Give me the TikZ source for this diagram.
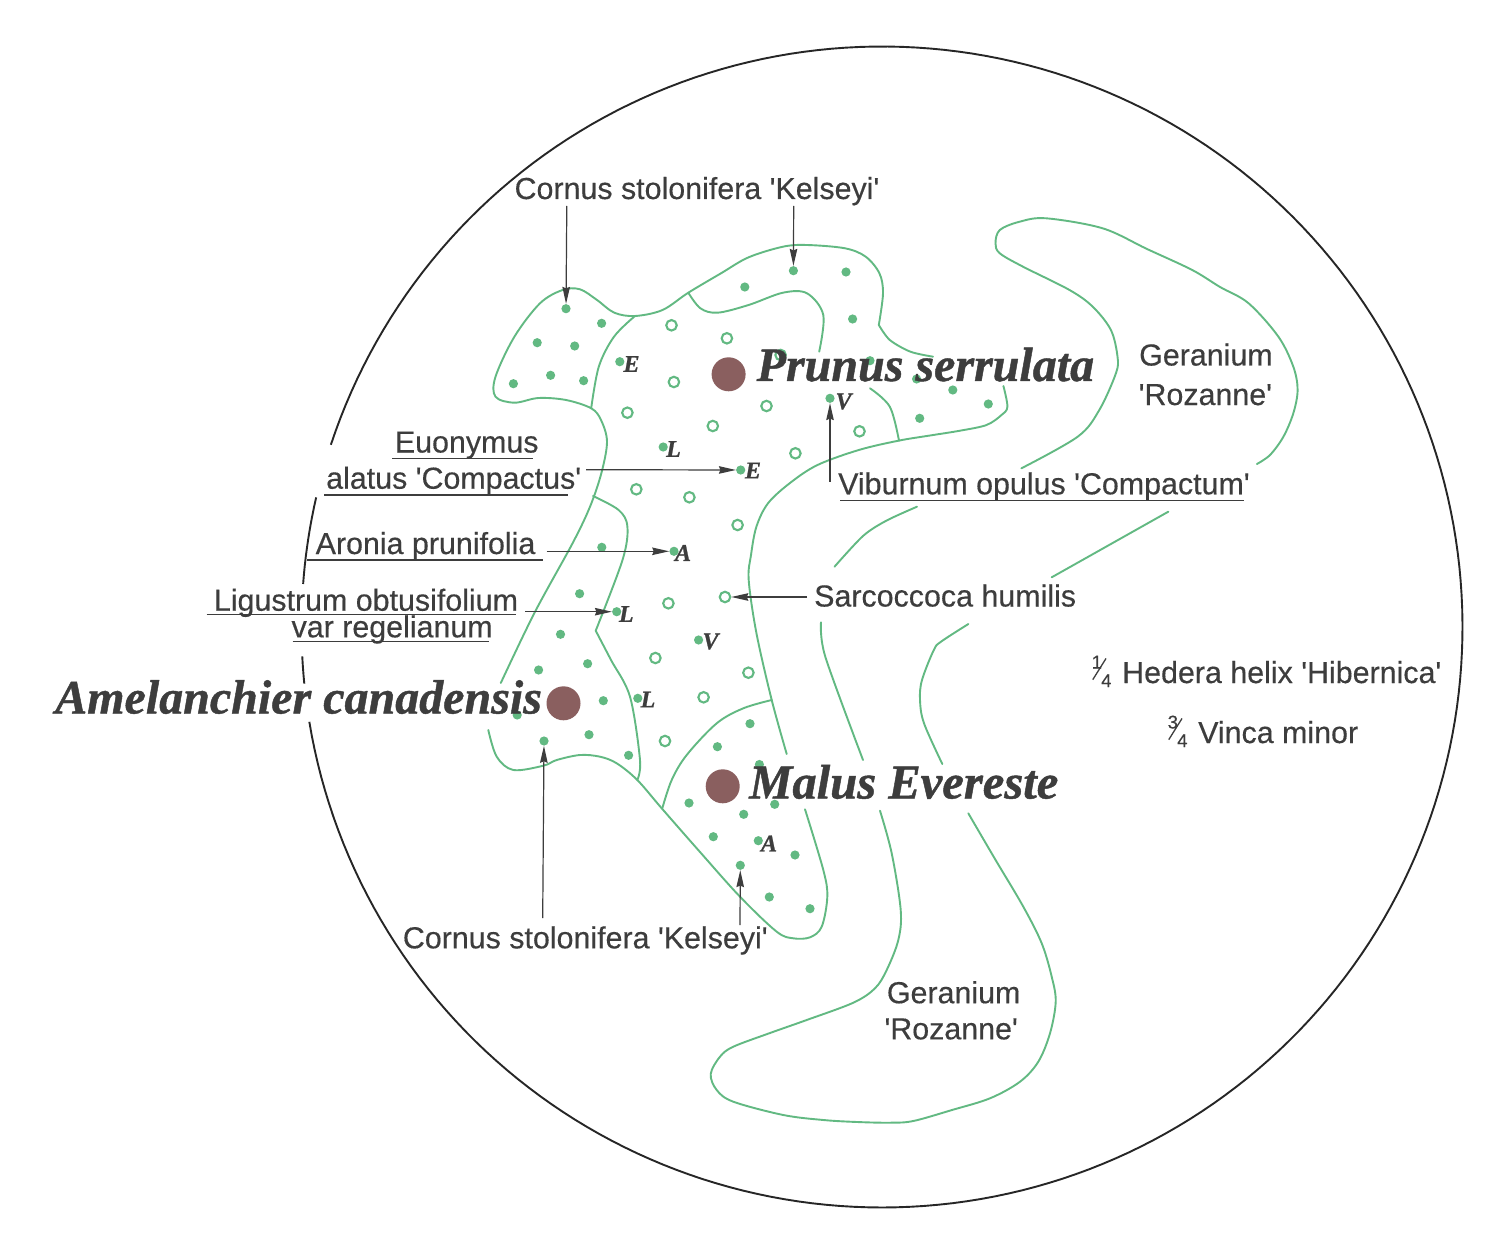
\documentclass[tikz,border=0pt]{standalone}
\usepackage{fontspec}
\setmainfont{Liberation Sans}[Ligatures=TeXOff,FakeBold=0.35]
\newfontfamily\heavyserif{Liberation Serif}[Ligatures=TeXOff,FakeBold=0.9]
\usetikzlibrary{arrows.meta}
\definecolor{leaf}{HTML}{62B982}
\definecolor{ink}{HTML}{3D3D3D}
\definecolor{trunk}{HTML}{8A5F5F}
\newcommand{\mixfrac}[2]{\rlap{\fontsize{18.5}{19}\selectfont\kern1.5pt\raisebox{14.5pt}{#1}}\rlap{\kern2pt\raisebox{3pt}{\rotatebox{58}{\rule{25pt}{1.3pt}}}}\rlap{\fontsize{18.5}{19}\selectfont\kern11pt\raisebox{-4pt}{#2}}\kern32pt}
\tikzset{
  ring/.style={draw=black!85,line width=1.9pt},
  bed/.style={draw=leaf,line width=1.9pt,line cap=round,line join=round},
  soliddot/.style={circle,fill=leaf,inner sep=0pt,minimum size=9.2pt},
  opendot/.style={circle,draw=leaf,line width=2.1pt,fill=white,inner sep=0pt,minimum size=10.5pt},
  treedot/.style={circle,fill=trunk,inner sep=0pt,minimum size=34pt},
  plantlabel/.style={anchor=base west,inner sep=0pt,text=ink,font=\fontsize{30.4}{32}\selectfont},
  treelabel/.style={anchor=base west,inner sep=0pt,text=ink,font=\heavyserif\bfseries\itshape\fontsize{48}{50}\selectfont},
  keyletter/.style={inner sep=0pt,text=ink,font=\heavyserif\bfseries\itshape\fontsize{24}{25}\selectfont},
  rule/.style={draw=ink,line width=1.4pt},
  pointer/.style={draw=ink,line width=1.2pt,-{Stealth[length=17pt,width=7.5pt,inset=1.5pt]}}
}
\begin{document}
\begin{tikzpicture}[x=1pt,y=-1pt]
\path[use as bounding box,fill=white] (0,0) rectangle (1512,1238);

% outer circle, broken behind the labels
\draw[ring] plot[domain=198.3:530.6,samples=240,variable=\a] ({882+580.5*cos(\a)},{627+580.5*sin(\a)});
\draw[ring] plot[domain=192.9:184.25,samples=20,variable=\a] ({882+580.5*cos(\a)},{627+580.5*sin(\a)});
\draw[ring] plot[domain=177.1:174.4,samples=8,variable=\a] ({882+580.5*cos(\a)},{627+580.5*sin(\a)});

% shrub bed outline
\draw[bed] plot[smooth,tension=0.55] coordinates {(500.8,683) (534.4,613) (572.7,543) (590,506.7) (601.4,473) (607,441.7) (601,420) (591.2,408.3) (566,400) (538.5,398) (514.4,402.7) (495.5,396.7) (495.5,376.7) (514.4,336.7) (540,303.3) (562.6,290) (580,289.3) (597,300) (614.3,312.7) (635,316) (662.5,310) (688.3,292.7) (721,273.3) (748.6,257.3) (783,246.7) (807,245) (845,248.3) (865.7,256.7) (879.4,273.3) (883,293.3) (878.8,325)};
\draw[bed] plot[smooth,tension=0.5] coordinates {(878.8,325) (889.8,340) (910.4,351.7) (933,356.7)};
\draw[bed] plot[smooth,tension=0.55] coordinates {(1003.4,386) (1007.4,406.7) (1001.5,415) (986.5,425) (960,430.7) (930,435.5) (898.4,440.7) (858.8,450) (817.5,465) (790,483) (768,503.3) (756.4,526.7) (751,555) (748.7,580) (756.4,633) (771.7,700) (786.7,754)};
\draw[bed] plot[smooth,tension=0.55] coordinates {(805,809.3) (823.3,870) (827.3,896.7) (821.7,926.7) (810,937.3) (793.3,938.3) (776.7,931.7) (740,896.7) (700,852) (661.7,808.3) (637.3,780) (616.7,763.3) (600,756.7) (580,755) (556.7,760) (543.3,765.7) (513.3,770) (496.7,756.7) (488.3,730)};
% internal divisions
\draw[bed] plot[smooth,tension=0.55] coordinates {(635,316) (614,336.7) (598.8,366.7) (591.2,408.3)};
\draw[bed] plot[smooth,tension=0.55] coordinates {(688.3,292.7) (700.4,308.3) (717.6,312.7) (748.6,305) (783,292.7) (807,293.3) (823.3,315) (819.2,351.7)};
\draw[bed] plot[smooth,tension=0.55] coordinates {(870,388.3) (889.8,406.7) (899,440.7)};
\draw[bed] plot[smooth,tension=0.55] coordinates {(593,496) (618.6,510) (627.4,526.7) (622.5,560) (595.7,630.7)};
\draw[bed] plot[smooth,tension=0.55] coordinates {(595.7,630.7) (611,660) (630,696.7) (640,760) (637.3,780)};
\draw[bed] plot[smooth,tension=0.55] coordinates {(662.3,808.3) (671.7,780) (686.7,755) (716.7,723.3) (743.3,708.3) (771.7,700)};

% groundcover drifts
\draw[bed] plot[smooth,tension=0.55] coordinates {(1021.4,468.3) (1077.7,436.7) (1099.3,410) (1115.9,373.3) (1117.5,356.7) (1110.9,330) (1092.7,306.7) (1069.5,290) (1023,266.7) (999.8,253.3) (995.5,243.3) (999.8,230) (1019.7,221.7) (1046.2,218.3) (1102.6,228.3) (1147,249) (1192.2,270) (1220,287) (1248.6,303.3) (1278.4,336.7) (1293.3,366.7) (1297.6,390) (1293.3,413.3) (1283.4,436.7) (1270,455) (1256.9,464)};
\draw[bed] plot[smooth,tension=0.5] coordinates {(917,506.7) (886.3,520.7) (863,536) (834.5,566.7)};
\draw[bed] (1168.3,511.7) -- (1051.7,577.3);
\draw[bed] plot[smooth,tension=0.5] coordinates {(821,622.3) (825.3,656.7) (863,760)};
\draw[bed] plot[smooth,tension=0.55] coordinates {(968.4,624) (941,641.7) (933.8,650) (922,680) (920,700) (924,723.3) (942.3,764)};
\draw[bed] plot[smooth,tension=0.55] coordinates {(880,810.7) (891.7,853.3) (900.7,910) (898.3,940) (886.7,970) (875,988.3) (853.3,1002.7) (806.7,1020) (770,1033) (733.3,1046.7) (720,1056.7) (710.7,1074) (716.7,1090) (733.3,1101.7) (783.3,1115) (823.3,1120) (857,1122) (890,1122.7) (913.3,1121) (952,1110) (990,1098.3) (1020,1081.7) (1038.3,1061.7) (1050,1033.3) (1055.7,1001.7) (1051.7,976.7) (1041.7,943.3) (1023.3,906.7) (995,859) (968.3,813.3)};

% planting dots
\foreach \px/\py [count=\i] in {671.5/325.3,726.9/338.3,673.9/382,627.4/412.7,766.5/406,712.8/426,859.5/431.3,795.4/453.3,636.3/489.3,689.4/497.3,780.6/355,737.6/525,668.4/603.3,655.4/658,748.4/672.7,703.6/697.3,665/741}
  \node[opendot] (o\i) at (\px,\py) {};
\foreach \px/\py [count=\i] in {601.6/323.3,537.2/342.7,574.7/346,513.4/383.7,550.6/375.3,583.6/380.7,619.8/361.7,663.2/447,744.8/287,846/272,852.6/319,919.7/418.3,952.8/390,988.3/404,870/360.7,916.6/379,601.8/547.3,579.6/593.7,560.5/634.3,587.6/663.7,538.6/670,698.6/640,603.3/700.7,637.8/698.3,517.2/715,589/734.7,628.6/755.3,750/723.7,717.4/746.7,759.4/764.5,689/803,743.7/814.3,774.7/804.3,713.3/836.7,758.3/840.7,795/855,769.3/897,810/908.7}
  \node[soliddot] (s\i) at (\px,\py) {};
\node[soliddot] (cornusA) at (566,308.7) {};
\node[soliddot] (cornusB) at (793.4,270.7) {};
\node[soliddot] (euonymusE) at (740.7,470) {};
\node[soliddot] (viburnumV) at (830,398.3) {};
\node[soliddot] (aroniaA) at (674,551.3) {};
\node[soliddot] (ligustrumL) at (616.7,611.7) {};
\node[soliddot] (cornusC) at (544,741) {};
\node[soliddot] (cornusD) at (740.3,865.3) {};
\node[opendot] (sarco) at (725,597) {};

% trees
\node[treedot] (treeP) at (728.6,374.3) {};
\node[treedot] (treeA) at (563.5,703.3) {};
\node[treedot] (treeM) at (722.7,786.3) {};

% key letters
\node[keyletter] (kE1) at (631.5,364) {E};
\node[keyletter] (kL1) at (673.5,449) {L};
\node[keyletter] (kE2) at (753,470.5) {E};
\node[keyletter] (kV1) at (843.6,401.5) {V};
\node[keyletter] (kA1) at (683,553) {A};
\node[keyletter] (kL2) at (626.3,614) {L};
\node[keyletter] (kV2) at (710.5,641.5) {V};
\node[keyletter] (kL3) at (648,699.5) {L};
\node[keyletter] (kA2) at (769,843.5) {A};

% tree names
\node[treelabel] (nameP) at (756.5,381) {Prunus serrulata};
\node[treelabel] (nameA) at (55,713.5) {Amelanchier canadensis};
\node[treelabel,font=\heavyserif\bfseries\itshape\fontsize{48.6}{50}\selectfont] (nameM) at (749,798.5) {Malus Evereste};

% plant labels
\node[plantlabel] (lCornusT) at (514.4,199) {Cornus stolonifera 'Kelseyi'};
\node[plantlabel] (lCornusB) at (402.7,948.3) {Cornus stolonifera 'Kelseyi'};
\node[plantlabel] (lEuo) at (394.7,452.5) {Euonymus};
\node[plantlabel] (lAla) at (326,488.7) {alatus 'Compactus'};
\node[plantlabel] (lAro) at (315.5,554) {Aronia prunifolia};
\node[plantlabel] (lLig) at (213.7,610.7) {Ligustrum obtusifolium};
\node[plantlabel] (lVar) at (291.4,637.3) {var regelianum};
\node[plantlabel] (lSar) at (814,606.5) {Sarcoccoca humilis};
\node[plantlabel] (lVib) at (838,494.3) {Viburnum opulus 'Compactum'};
\node[plantlabel] (lHed) at (1090,683) {\mixfrac{1}{4}Hedera helix 'Hibernica'};
\node[plantlabel] (lVin) at (1166,743) {\mixfrac{3}{4}Vinca minor};
\node[plantlabel] (lGerA) at (1139,365.5) {Geranium};
\node[plantlabel] (lRozA) at (1138.5,405) {'Rozanne'};
\node[plantlabel] (lGerB) at (886.7,1003.2) {Geranium};
\node[plantlabel] (lRozB) at (884.3,1039.3) {'Rozanne'};

% underlines
\draw[rule] (392,458.7) -- (532.5,458.7);
\draw[rule] (324,495) -- (568,495);
\draw[rule] (307,560) -- (543,560);
\draw[rule] (206.5,614.7) -- (516,614.7);
\draw[rule] (292.6,641.7) -- (488.5,641.7);
\draw[rule] (840,500.7) -- (1244,500.7);

% pointers
\coordinate (fromA) at (566.8,206);
\coordinate (fromB) at (793.7,206);
\coordinate (fromE) at (586,469.7);
\coordinate (fromV) at (830,481.7);
\coordinate (fromR) at (546.7,551.3);
\coordinate (fromL) at (525,611.7);
\coordinate (fromS) at (807,597);
\coordinate (fromC) at (542.7,918);
\coordinate (fromD) at (740,925);
\draw[pointer] (fromA) -- (cornusA);
\draw[pointer] (fromB) -- (cornusB);
\draw[pointer] (fromE) -- (euonymusE);
\draw[pointer] (fromV) -- (viburnumV);
\draw[pointer] (fromR) -- (aroniaA);
\draw[pointer] (fromL) -- (ligustrumL);
\draw[pointer] (fromS) -- (sarco);
\draw[pointer] (fromC) -- (cornusC);
\draw[pointer] (fromD) -- (cornusD);
\end{tikzpicture}
\end{document}
